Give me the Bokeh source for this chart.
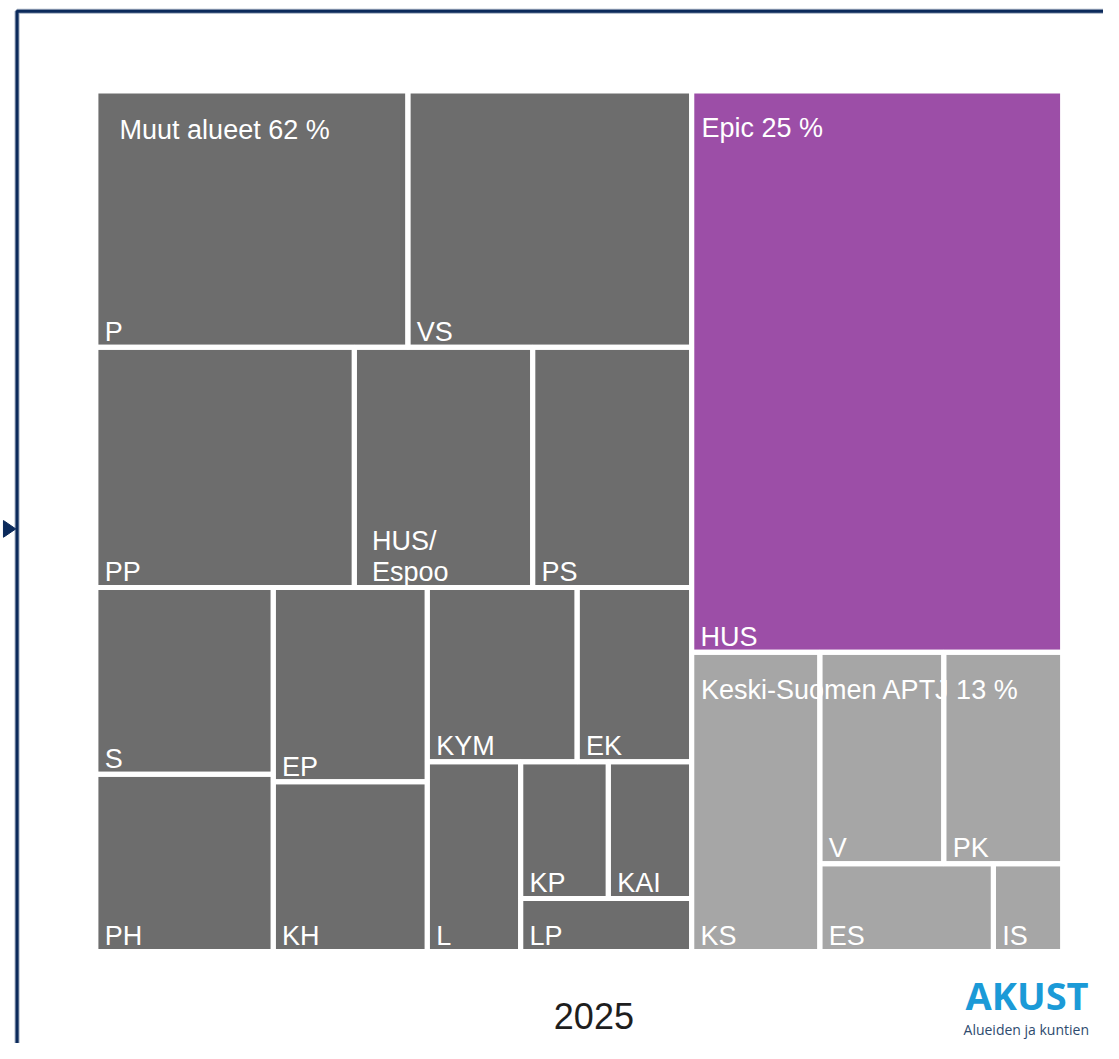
from bokeh.plotting import figure
from bokeh.models import Range1d, ColumnDataSource
from bokeh.core.properties import value
from bokeh.embed import file_html
from bokeh.resources import INLINE

# ---------------- data ----------------
regions = ["P", "VS", "PP", "HUS/Espoo", "PS", "S", "PH", "EP", "KH", "KYM", "EK",
           "L", "KP", "KAI", "LP", "HUS", "KS", "V", "PK", "ES", "IS"]
shares = [9.62, 8.75, 7.46, 5.15, 4.59, 3.98, 3.78, 3.60, 3.14, 3.14, 2.40,
          2.13, 1.44, 1.37, 1.09, 25.04, 4.61, 3.15, 3.02, 1.83, 0.73]
region_group = ["Muut alueet"] * 15 + ["Epic"] + ["Keski-Suomen APTJ"] * 5
groups = ["Muut alueet", "Epic", "Keski-Suomen APTJ"]
group_pct = [62, 25, 13]
year_label = "2025"

# ---------------- styles ----------------
group_colors = {"Muut alueet": "#6d6d6d", "Epic": "#9c4ea7", "Keski-Suomen APTJ": "#a6a6a6"}
group_label_offset = {"Muut alueet": (24, 40), "Epic": (10, 37.5), "Keski-Suomen APTJ": (9.5, 38.5)}
label_extra_x = {"HUS/Espoo": 9}
label_lines = {"HUS/Espoo": ["HUS/", "Espoo"]}
FONT = "Liberation Sans"

value_of = dict(zip(regions, shares))

# layout structure (split direction + nesting); sizes come from the data
TREE = ("h", [
    ("v", [("h", ["P", "VS"]),
           ("h", ["PP", "HUS/Espoo", "PS"]),
           ("h", [("v", ["S", "PH"]),
                  ("v", ["EP", "KH"]),
                  ("v", [("h", ["KYM", "EK"]),
                         ("h", ["L", ("v", [("h", ["KP", "KAI"]), "LP"])])])])]),
    ("v", ["HUS",
           ("h", ["KS", ("v", [("h", ["V", "PK"]), ("h", ["ES", "IS"])])])])
])


def weight(node):
    if isinstance(node, str):
        return value_of[node]
    return sum(weight(c) for c in node[1])


def layout(node, x0, y0, x1, y1, out):
    if isinstance(node, str):
        out[node] = (x0, y0, x1, y1)
        return
    d, children = node
    ws = [weight(c) for c in children]
    s = sum(ws)
    pos = x0 if d == "h" else y0
    for c, w in zip(children, ws):
        if d == "h":
            step = (x1 - x0) * w / s
            layout(c, pos, y0, pos + step, y1, out)
        else:
            step = (y1 - y0) * w / s
            layout(c, x0, pos, x1, pos + step, out)
        pos += step


rects = {}
layout(TREE, 96.8, 91.8, 1077.5, 965.5, rects)

W, H = 1103, 1043
p = figure(width=W, height=H, x_range=Range1d(0, 1119), y_range=Range1d(1059, 0),
           output_backend="svg", toolbar_location=None,
           x_axis_location=None, y_axis_location=None, min_border=0,
           outline_line_color=None, background_fill_color="white")
p.grid.grid_line_color = None

# frame line and arrow
p.quad(left=[16.8], right=[1400], top=[10.8], bottom=[1400], fill_alpha=0,
       line_color="#a3aec0", line_width=5)
p.quad(left=[16.8], right=[1400], top=[10.8], bottom=[1400], fill_alpha=0,
       line_color="#0b2a5b", line_width=3)
p.patch(x=[3, 15.5, 3], y=[528, 536.5, 545], fill_color="#0b2a5b", line_color="#0b2a5b")

# cells
cell_src = ColumnDataSource(dict(
    left=[rects[r][0] for r in regions],
    right=[rects[r][2] for r in regions],
    top=[rects[r][1] for r in regions],
    bottom=[rects[r][3] for r in regions],
    color=[group_colors[g] for g in region_group],
))
p.quad(left="left", right="right", top="top", bottom="bottom", fill_color="color",
       line_color=None, source=cell_src)

# group labels (under the white cell borders)
gx, gy, gt = [], [], []
for g, pct in zip(groups, group_pct):
    members = [r for r, rg in zip(regions, region_group) if rg == g]
    left = min(rects[m][0] for m in members)
    top = min(rects[m][1] for m in members)
    dx, dy = group_label_offset[g]
    gx.append(left + dx)
    gy.append(top + dy)
    gt.append(f"{g} {pct} %")
p.text(x=gx, y=gy, text=gt, text_color="white", text_font=value(FONT),
       text_font_size=value("27px"), text_baseline="alphabetic", text_align="left")

# white borders
p.quad(left="left", right="right", top="top", bottom="bottom", fill_alpha=0,
       line_color="white", line_width=5, source=cell_src)

# cell labels
lx, ly, lt = [], [], []
for r in regions:
    x0, y0, x1, y1 = rects[r]
    lines = label_lines.get(r, [r])
    base = y1 - 15.5
    for i, line in enumerate(reversed(lines)):
        lx.append(x0 + 9 + label_extra_x.get(r, 0))
        ly.append(base - 32 * i)
        lt.append(line)
p.text(x=lx, y=ly, text=lt, text_color="white", text_font=value(FONT),
       text_font_size=value("27px"), text_baseline="alphabetic", text_align="left")

# year
p.text(x=[602], y=[1031], text=[year_label], text_color="#1e1e1e", text_font=value(FONT),
       text_font_size=value("36px"), text_baseline="alphabetic", text_align="center")

# logo
p.text(x=[979], y=[1010], text=["AKUST"], text_color="#1b9ad7", text_font=value("Open Sans"),
       text_font_size=value("38px"), text_font_style="bold", text_baseline="alphabetic",
       text_align="left")
p.text(x=[977], y=[1045], text=["Alueiden ja kuntien"], text_color="#2e4b6e",
       text_font=value("Open Sans"), text_font_size=value("14px"),
       text_baseline="alphabetic", text_align="left")

open("out.html", "w").write(file_html(p, INLINE))
